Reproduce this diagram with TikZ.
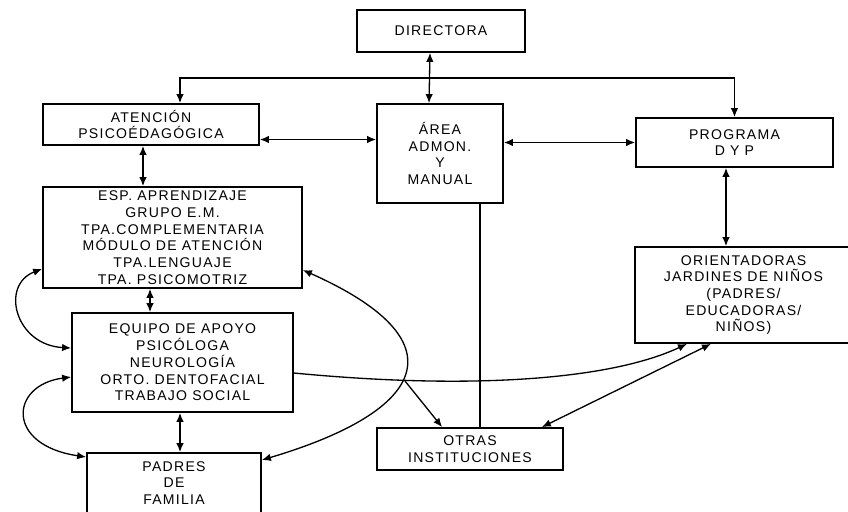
\documentclass[tikz,border=0pt]{standalone}
\usepackage{fontspec}
\setmainfont{Liberation Sans}[LetterSpace=9]
\usetikzlibrary{arrows.meta}

\begin{document}
\begin{tikzpicture}[
  x=0.2mm,
  y=-0.2mm,
  unit/.style={
    draw,
    line width=1pt,
    align=center,
    inner sep=1pt,
    font=\fontsize{8}{9.5}\selectfont
  },
  arrow/.style={-{Latex[length=1.8mm,width=1.5mm]}, line width=0.75pt},
  mutual/.style={{Latex[length=1.8mm,width=1.5mm]}-{Latex[length=1.8mm,width=1.5mm]}, line width=0.75pt},
  link/.style={line width=0.75pt}
]
\useasboundingbox (0,0) rectangle (848,511);

\node[unit, minimum width=33.6mm, minimum height=8.4mm] (direc) at (441,31) {DIRECTORA};
\node[unit, minimum width=43.2mm, minimum height=8.2mm] (aten) at (151,124.5) {ATENCIÓN\\PSICOÉDAGÓGICA};
\node[unit, minimum width=25.2mm, minimum height=19.8mm] (area) at (440,153.5) {ÁREA\\ADMON.\\Y\\MANUAL};
\node[unit, minimum width=39.4mm, minimum height=9.8mm] (prog) at (734.5,142.5) {PROGRAMA\\D Y P};
\node[unit, minimum width=43.4mm, minimum height=19.2mm] (orient) at (743.5,295) {ORIENTADORAS\\JARDINES DE NIÑOS\\(PADRES/\\EDUCADORAS/\\NIÑOS)};
\node[unit, minimum width=51.8mm, minimum height=20.2mm] (esp) at (172.5,237.5) {ESP. APRENDIZAJE\\GRUPO E.M.\\TPA.COMPLEMENTARIA\\MÓDULO DE ATENCIÓN\\TPA.LENGUAJE\\TPA. PSICOMOTRIZ};
\node[unit, minimum width=44.2mm, minimum height=19.8mm] (equipo) at (182.5,362.5) {EQUIPO DE APOYO\\PSICÓLOGA\\NEUROLOGÍA\\ORTO. DENTOFACIAL\\TRABAJO SOCIAL};
\node[unit, minimum width=34.8mm, minimum height=12mm] (padres) at (174,483) {PADRES\\DE\\FAMILIA};
\node[unit, minimum width=37.2mm, minimum height=8.4mm] (otras) at (470,449) {OTRAS\\INSTITUCIONES};

\coordinate (bar) at (430,78);
\coordinate (cross) at (405,381);

\draw[mutual] ([xshift=-2.2mm]direc.south) -- ([xshift=-2.2mm]area.north);
\draw[arrow] (bar) -| ([xshift=5.8mm]aten.north);
\draw[arrow] (bar) -| (prog.north);
\draw[mutual] ([yshift=-3mm]aten.east) -- ([yshift=-3mm]aten.east -| area.west);
\draw[mutual] (area.east |- prog.west) -- (prog.west);
\draw[mutual] ([xshift=-1.7mm]prog.south) -- ([xshift=-1.7mm]prog.south |- orient.north);
\draw[mutual] ([xshift=-1.6mm]aten.south) -- ([xshift=-1.6mm]aten.south |- esp.north);
\draw[mutual] ([xshift=-4.5mm]esp.south) -- ([xshift=-4.5mm]esp.south |- equipo.north);
\draw[mutual] ([xshift=-0.5mm]equipo.south) -- ([xshift=-0.5mm]equipo.south |- padres.north);
\draw[link] ([xshift=8mm]area.south) -- ([xshift=8mm]area.south |- otras.north);

\draw[mutual] ([yshift=4mm]esp.south west) .. controls (0,285) and (15,345) .. ([yshift=2.9mm]equipo.west);
\draw[mutual] ([yshift=-2.9mm]equipo.west) .. controls (10,385) and (5,445) .. ([yshift=5.2mm]padres.west);
\draw[mutual] ([yshift=-6.5mm]esp.east) .. controls (460,340) and (430,410) .. ([yshift=4.6mm]padres.east);

\draw[arrow] ([yshift=-2.1mm]equipo.east) .. controls (470,390) and (610,380) .. ([xshift=-11.3mm]orient.south);
\draw[arrow] (cross) -- ([xshift=13.2mm]otras.north west);
\draw[mutual] ([xshift=-4.4mm]otras.north east) -- ([xshift=-6.5mm]orient.south);

\end{tikzpicture}
\end{document}
